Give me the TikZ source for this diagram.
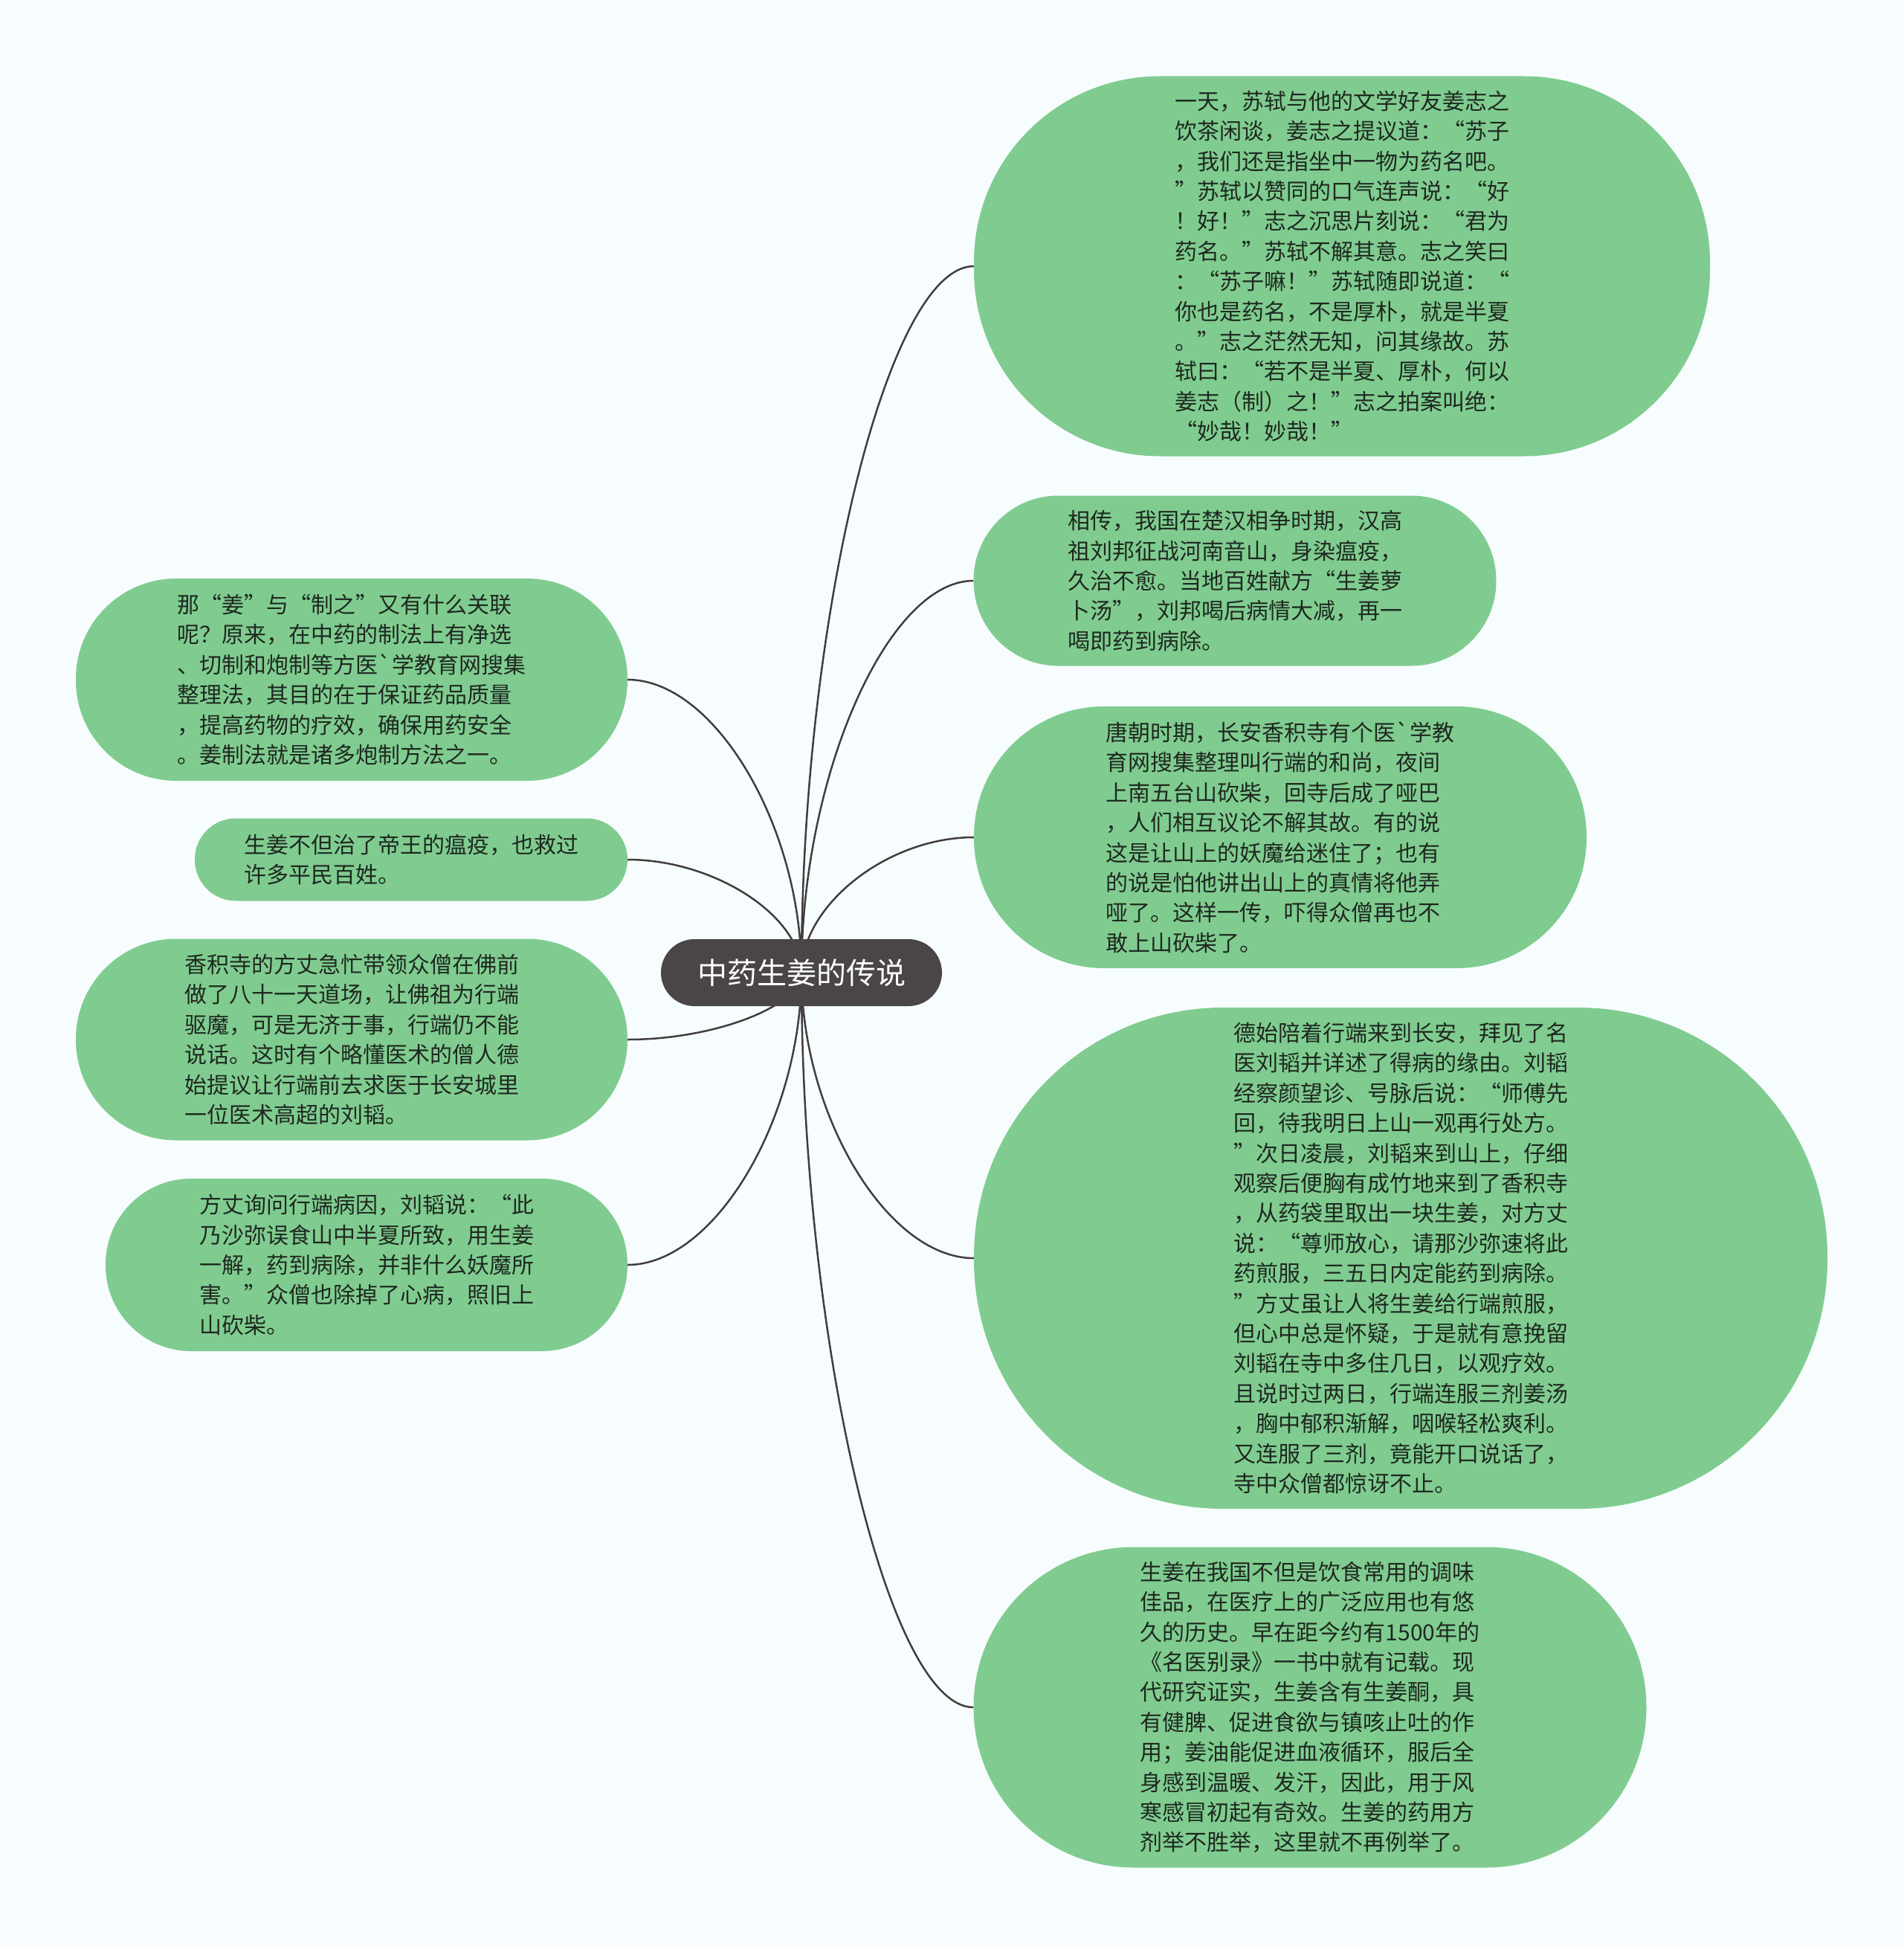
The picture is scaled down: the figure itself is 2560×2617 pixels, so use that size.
\documentclass[tikz,border=0pt]{standalone}
\usepackage{fontspec}
\newfontfamily\cjk{Noto Sans CJK SC}
\usepackage{tikz}
\usetikzlibrary{calc}
\usepackage{xcolor}

\definecolor{paper}{RGB}{247,253,255}
\definecolor{leafgreen}{RGB}{128,204,144}
\definecolor{leafink}{RGB}{30,40,32}
\definecolor{rootgray}{RGB}{74,69,70}
\definecolor{linkgray}{RGB}{66,60,61}

\pgfdeclarelayer{back}
\pgfdeclarelayer{links}
\pgfsetlayers{back,links,main}

\begin{document}
\begin{tikzpicture}[x=1pt, y=-1pt,
    leaf/.style={rectangle, fill=leafgreen, text=leafink, align=left, inner sep=0pt,
        font=\cjk\fontsize{30}{40.4}\selectfont},
    root/.style={rectangle, fill=rootgray, text=white, inner sep=0pt,
        minimum width=378pt, minimum height=90pt, rounded corners=45pt,
        font=\cjk\fontsize{40}{48}\selectfont},
    link/.style={draw=linkgray, line width=2.5pt}]
    % Canvas
    \useasboundingbox (0,0) rectangle (2560,2617);
    \begin{pgfonlayer}{back}
        \fill[paper] (0,0) rectangle (2560,2617);
    \end{pgfonlayer}

    % Root
    \node[root] (root) at (1078,1308) {中药生姜的传说};

    % Right branch
    \node[leaf, minimum width=990pt, minimum height=511pt, rounded corners=250pt] (r1) at (1805,358) {%
        一天，苏轼与他的文学好友姜志之\\
        饮茶闲谈，姜志之提议道：“苏子\\
        ，我们还是指坐中一物为药名吧。\\
        ”苏轼以赞同的口气连声说：“好\\
        ！好！”志之沉思片刻说：“君为\\
        药名。”苏轼不解其意。志之笑曰\\
        ：“苏子嘛！”苏轼随即说道：“\\
        你也是药名，不是厚朴，就是半夏\\
        。”志之茫然无知，问其缘故。苏\\
        轼曰：“若不是半夏、厚朴，何以\\
        姜志（制）之！”志之拍案叫绝：\\
        “妙哉！妙哉！”};
    \node[leaf, minimum width=703pt, minimum height=229pt, rounded corners=114pt] (r2) at (1661,781) {%
        相传，我国在楚汉相争时期，汉高\\
        祖刘邦征战河南音山，身染瘟疫，\\
        久治不愈。当地百姓献方“生姜萝\\
        卜汤”，刘邦喝后病情大减，再一\\
        喝即药到病除。};
    \node[leaf, minimum width=824pt, minimum height=352pt, rounded corners=175pt] (r3) at (1722,1126) {%
        唐朝时期，长安香积寺有个医`学教\\
        育网搜集整理叫行端的和尚，夜间\\
        上南五台山砍柴，回寺后成了哑巴\\
        ，人们相互议论不解其故。有的说\\
        这是让山上的妖魔给迷住了；也有\\
        的说是怕他讲出山上的真情将他弄\\
        哑了。这样一传，吓得众僧再也不\\
        敢上山砍柴了。};
    \node[leaf, minimum width=1148pt, minimum height=674pt, rounded corners=335pt] (r4) at (1884,1692) {%
        德始陪着行端来到长安，拜见了名\\
        医刘韬并详述了得病的缘由。刘韬\\
        经察颜望诊、号脉后说：“师傅先\\
        回，待我明日上山一观再行处方。\\
        ”次日凌晨，刘韬来到山上，仔细\\
        观察后便胸有成竹地来到了香积寺\\
        ，从药袋里取出一块生姜，对方丈\\
        说：“尊师放心，请那沙弥速将此\\
        药煎服，三五日内定能药到病除。\\
        ”方丈虽让人将生姜给行端煎服，\\
        但心中总是怀疑，于是就有意挽留\\
        刘韬在寺中多住几日，以观疗效。\\
        且说时过两日，行端连服三剂姜汤\\
        ，胸中郁积渐解，咽喉轻松爽利。\\
        又连服了三剂，竟能开口说话了，\\
        寺中众僧都惊讶不止。};
    \node[leaf, minimum width=905pt, minimum height=431pt, rounded corners=215pt] (r5) at (1762,2296) {%
        生姜在我国不但是饮食常用的调味\\
        佳品，在医疗上的广泛应用也有悠\\
        久的历史。早在距今约有1500年的\\
        《名医别录》一书中就有记载。现\\
        代研究证实，生姜含有生姜酮，具\\
        有健脾、促进食欲与镇咳止吐的作\\
        用；姜油能促进血液循环，服后全\\
        身感到温暖、发汗，因此，用于风\\
        寒感冒初起有奇效。生姜的药用方\\
        剂举不胜举，这里就不再例举了。};

    % Left branch
    \node[leaf, minimum width=742pt, minimum height=272pt, rounded corners=135pt] (l1) at (473,914) {%
        那“姜”与“制之”又有什么关联\\
        呢？原来，在中药的制法上有净选\\
        、切制和炮制等方医`学教育网搜集\\
        整理法，其目的在于保证药品质量\\
        ，提高药物的疗效，确保用药安全\\
        。姜制法就是诸多炮制方法之一。};
    \node[leaf, minimum width=582pt, minimum height=111pt, rounded corners=55pt] (l2) at (553,1156) {%
        生姜不但治了帝王的瘟疫，也救过\\
        许多平民百姓。};
    \node[leaf, minimum width=742pt, minimum height=271pt, rounded corners=135pt] (l3) at (473,1398) {%
        香积寺的方丈急忙带领众僧在佛前\\
        做了八十一天道场，让佛祖为行端\\
        驱魔，可是无济于事，行端仍不能\\
        说话。这时有个略懂医术的僧人德\\
        始提议让行端前去求医于长安城里\\
        一位医术高超的刘韬。};
    \node[leaf, minimum width=702pt, minimum height=232pt, rounded corners=115pt] (l4) at (493,1701) {%
        方丈询问行端病因，刘韬说：“此\\
        乃沙弥误食山中半夏所致，用生姜\\
        一解，药到病除，并非什么妖魔所\\
        害。”众僧也除掉了心病，照旧上\\
        山砍柴。};

    % Links
    \begin{pgfonlayer}{links}
        \foreach \leafname in {r1,r2,r3,r4,r5}
            \draw[link] (root.center) .. controls ($(root.center)!0.5!(root.center |- \leafname.west)$)
                and ($(root.center |- \leafname.west)!0.5!(\leafname.west)$) .. (\leafname.west);
        \foreach \leafname in {l1,l2,l3,l4}
            \draw[link] (root.center) .. controls ($(root.center)!0.5!(root.center |- \leafname.east)$)
                and ($(root.center |- \leafname.east)!0.5!(\leafname.east)$) .. (\leafname.east);
    \end{pgfonlayer}
\end{tikzpicture}
\end{document}
